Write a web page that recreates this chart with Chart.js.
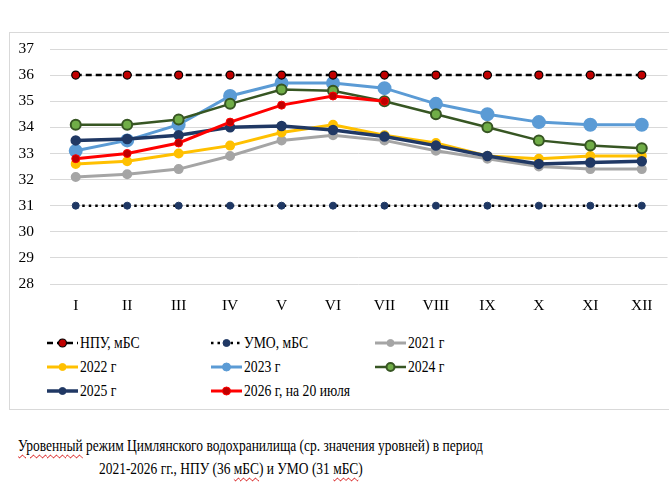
<!DOCTYPE html>
<html><head><meta charset="utf-8">
<script src="https://cdn.jsdelivr.net/npm/chart.js@4/dist/chart.umd.min.js"></script>
<style>
html,body{margin:0;padding:0;background:#fff;}
body{width:669px;height:500px;position:relative;overflow:hidden;font-family:"Liberation Serif","Times New Roman",serif;color:#000;}
#frame{position:absolute;left:9px;top:32px;width:680px;height:378px;border:1px solid #d9d9d9;box-sizing:border-box;}
#wrap{position:absolute;left:9px;top:32px;width:667px;height:292px;}
.leg{position:absolute;display:flex;align-items:center;font-size:16.5px;white-space:nowrap;}
.leg span{display:inline-block;transform:scaleX(0.83);transform-origin:left center;}
.leg svg{margin-right:2px;}
.cap{position:absolute;font-size:16.5px;white-space:nowrap;transform:scaleX(0.815);transform-origin:left top;}
.sq{text-decoration:underline wavy #d00000;text-decoration-thickness:1px;text-underline-offset:3px;}
</style></head><body>
<div id="frame"></div>
<div id="wrap"><canvas id="c"></canvas></div>
<div id="legend"></div>
<div class="cap" style="left:18px;top:436px;"><span class="sq">Уровенный</span> режим Цимлянского водохранилища (ср. значения уровней) в период</div>
<div class="cap" style="left:99px;top:459px;">2021-2026 гг., НПУ (36 <span class="sq">мБС</span>) и УМО (31 <span class="sq">мБС</span>)</div>
<script>
const months = ["I","II","III","IV","V","VI","VII","VIII","IX","X","XI","XII"];
const npu  = [36,36,36,36,36,36,36,36,36,36,36,36];
const umo  = [31,31,31,31,31,31,31,31,31,31,31,31];
const y2021 = [32.1,32.2,32.4,32.9,33.5,33.7,33.5,33.1,32.8,32.5,32.4,32.4];
const y2022 = [32.6,32.7,33.0,33.3,33.8,34.1,33.7,33.4,32.9,32.8,32.9,32.9];
const y2023 = [33.1,33.5,34.1,35.2,35.7,35.7,35.5,34.9,34.5,34.2,34.1,34.1];
const y2024 = [34.1,34.1,34.3,34.9,35.45,35.4,35.0,34.5,34.0,33.5,33.3,33.2];
const y2025 = [33.5,33.55,33.7,34.0,34.05,33.9,33.65,33.3,32.9,32.6,32.65,32.7];
const y2026 = [32.8,33.0,33.4,34.2,34.85,35.2,35.0,null,null,null,null,null];
const yTicks = [28,29,30,31,32,33,34,35,36,37];

const series = [
 {label:"НПУ, мБС", data:npu, borderColor:"#000", borderWidth:2.5, borderDash:[6,4], pointBackgroundColor:"#c00000", pointBorderColor:"#000", pointBorderWidth:1.2, pointRadius:4, order:1},
 {label:"УМО, мБС", data:umo, borderColor:"#000", borderWidth:2.5, borderDash:[2.5,4], pointBackgroundColor:"#1f3864", pointBorderColor:"#1f3864", pointBorderWidth:1, pointRadius:3.5, order:1},
 {label:"2021 г", data:y2021, borderColor:"#a5a5a5", borderWidth:3, pointBackgroundColor:"#a5a5a5", pointBorderColor:"#a5a5a5", pointRadius:3.5, order:7},
 {label:"2022 г", data:y2022, borderColor:"#ffc000", borderWidth:3, pointBackgroundColor:"#ffc000", pointBorderColor:"#ffc000", pointRadius:3.5, order:6},
 {label:"2023 г", data:y2023, borderColor:"#5b9bd5", borderWidth:3, pointBackgroundColor:"#5b9bd5", pointBorderColor:"#5b9bd5", pointRadius:5.5, order:5},
 {label:"2024 г", data:y2024, borderColor:"#375623", borderWidth:2.5, pointBackgroundColor:"#70ad47", pointBorderColor:"#375623", pointBorderWidth:2, pointRadius:5, order:4},
 {label:"2025 г", data:y2025, borderColor:"#203864", borderWidth:3.5, pointBackgroundColor:"#203864", pointBorderColor:"#203864", pointRadius:3.5, order:3},
 {label:"2026 г, на 20 июля", data:y2026, borderColor:"#ff0000", borderWidth:3, pointBackgroundColor:"#c00000", pointBorderColor:"#ff0000", pointBorderWidth:1, pointRadius:4, order:2}
];
series.forEach(s=>{s.fill=false;s.tension=0;s.pointHoverRadius=s.pointRadius;s.spanGaps=false;});

const font = {family:"'Liberation Serif','Times New Roman',serif", size:15.5};
new Chart(document.getElementById('c'), {
  type:'line',
  data:{labels:months, datasets:series},
  options:{
    responsive:true, maintainAspectRatio:false, animation:false,
    layout:{padding:{top:17,right:0,left:0,bottom:0}},
    plugins:{legend:{display:false}, tooltip:{enabled:false}},
    scales:{
      x:{offset:true, grid:{display:false, drawTicks:false}, border:{display:false},
         ticks:{color:"#000", font:font, padding:13},
         afterFit:(s)=>{s.height=40; s.paddingLeft=0; s.paddingRight=0;}},
      y:{min:28,max:37, grid:{color:"#d9d9d9", lineWidth:1, drawTicks:false}, border:{display:false},
         afterBuildTicks:(s)=>{s.ticks = yTicks.map(v=>({value:v}));},
         ticks:{color:"#000", font:font, padding:16, stepSize:1},
         afterFit:(s)=>{s.width=41; s.paddingTop=9; s.paddingBottom=9;}}
    }
  }
});

// legend (HTML)
const legPos = [[47,343],[211,343],[375,343],[47,367],[211,367],[375,367],[47,391],[211,391]];
const L = document.getElementById('legend');
series.forEach((s,i)=>{
  const d = document.createElement('div');
  d.className='leg';
  d.style.left = legPos[i][0]+'px';
  d.style.top = (legPos[i][1]-10)+'px';
  const dash = s.borderDash ? `stroke-dasharray="${s.borderDash.join(',')}"` : '';
  const r = Math.min(s.pointRadius, 4);
  d.innerHTML = `<svg width="31" height="20"><line x1="0" y1="10" x2="31" y2="10" stroke="${s.borderColor}" stroke-width="${s.borderWidth}" ${dash}/><circle cx="15.5" cy="10" r="${r}" fill="${s.pointBackgroundColor}" stroke="${s.pointBorderColor}" stroke-width="${s.pointBorderWidth||1}"/></svg><span>${s.label}</span>`;
  L.appendChild(d);
});
</script>
</body></html>
